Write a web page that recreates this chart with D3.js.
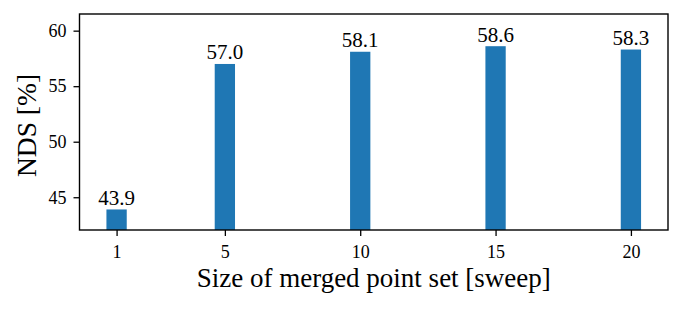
<!DOCTYPE html>
<html>
<head>
<meta charset="utf-8">
<script src="https://cdn.jsdelivr.net/npm/d3@7"></script>
<style>
  body { margin: 0; background: #fff; }
  svg text { font-family: "Liberation Serif", "Times New Roman", serif; fill: #000; }
</style>
</head>
<body>
<div id="chart"></div>
<script>
const sizes = [1, 5, 10, 15, 20];
const nds = [43.9, 57.0, 58.1, 58.6, 58.3];
const xTicks = [1, 5, 10, 15, 20];
const yTicks = [45, 50, 55, 60];

const w = 682, h = 309;
const margin = {top: 14, right: 14, bottom: 79, left: 79.5};
const width = w - margin.left - margin.right;
const height = h - margin.top - margin.bottom;
const barW = 0.75;

const x = d3.scaleLinear().domain([-0.37, 21.37]).range([0, width]);
const y = d3.scaleLinear().domain([42.05, 61.5]).range([height, 0]);

const svg = d3.select("#chart").append("svg")
  .attr("width", w)
  .attr("height", h);

const g = svg.append("g")
  .attr("transform", "translate(" + margin.left + "," + margin.top + ")");

// bars
g.selectAll("rect.bar")
  .data(sizes)
  .enter().append("rect")
  .attr("class", "bar")
  .attr("x", (d) => x(d - barW / 2))
  .attr("width", (d) => x(barW) - x(0))
  .attr("y", (d, i) => y(nds[i]))
  .attr("height", (d, i) => height - y(nds[i]))
  .attr("fill", "#1f77b4");

// value labels
g.selectAll("text.val")
  .data(sizes)
  .enter().append("text")
  .attr("class", "val")
  .attr("x", (d) => x(d))
  .attr("y", (d, i) => y(nds[i]) - 4.5)
  .attr("text-anchor", "middle")
  .style("font-size", "21px")
  .text((d, i) => nds[i].toFixed(1));

// axes
const xAxis = d3.axisBottom(x).tickValues(xTicks).tickSize(6).tickPadding(9);
const yAxis = d3.axisLeft(y).tickValues(yTicks).tickSize(6).tickPadding(7);

const gx = g.append("g")
  .attr("transform", "translate(0," + height + ")")
  .call(xAxis);
const gy = g.append("g").call(yAxis);

[gx, gy].forEach((a) => {
  a.attr("font-size", null).attr("font-family", null);
  a.select(".domain").remove();
  a.selectAll(".tick line").attr("stroke", "#000").attr("stroke-width", 1.3);
  a.selectAll(".tick text").style("font-size", "18px");
});

// frame
g.append("rect")
  .attr("width", width)
  .attr("height", height)
  .attr("fill", "none")
  .attr("stroke", "#000")
  .attr("stroke-width", 1.4);

// axis titles
svg.append("text")
  .attr("x", margin.left + width / 2)
  .attr("y", 287)
  .attr("text-anchor", "middle")
  .style("font-size", "27px")
  .text("Size of merged point set [sweep]");

svg.append("text")
  .attr("transform", "translate(36,125.5) rotate(-90)")
  .attr("text-anchor", "middle")
  .style("font-size", "27.5px")
  .text("NDS [%]");
</script>
</body>
</html>
